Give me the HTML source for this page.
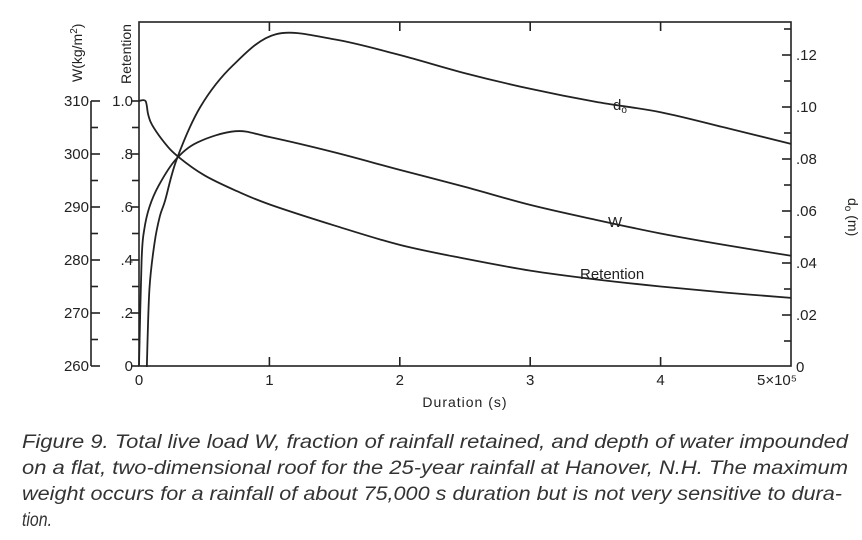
<!DOCTYPE html>
<html><head><meta charset="utf-8"><style>
body{margin:0;background:#fff;}
svg{display:block;font-family:"Liberation Sans",sans-serif;}
</style></head><body>
<svg id="c" width="862" height="540" viewBox="0 0 862 540">
<g id="axes" stroke="#222" stroke-width="1.6" fill="none"></g>
<g id="labels" fill="#222" font-size="14"></g>
<g id="curves" stroke="#222" stroke-width="1.8" fill="none"></g>
<g font-style="italic" font-size="19" fill="#333">
<text x="22" y="448" textLength="826" lengthAdjust="spacingAndGlyphs">Figure 9.  Total live load W, fraction of rainfall retained, and depth of water impounded</text>
<text x="22" y="474" textLength="826" lengthAdjust="spacingAndGlyphs">on a flat, two-dimensional roof for the 25-year rainfall at Hanover, N.H.  The maximum</text>
<text x="22" y="500" textLength="820" lengthAdjust="spacingAndGlyphs">weight occurs for a rainfall of about 75,000 s duration but is not very sensitive to dura-</text>
<text x="22" y="526" textLength="30" lengthAdjust="spacingAndGlyphs">tion.</text>
</g>
</svg>
<script>
const durT=[0,0.05,0.07,0.1,0.2,0.3,0.5,0.75,1,1.5,2,2.5,3,3.5,4,4.5,5];
const retention=[1.0,1.0,0.95,0.91,0.84,0.79,0.72,0.66,0.61,0.53,0.457,0.405,0.36,0.327,0.30,0.277,0.257];
const wT=[0,0.02,0.04,0.08,0.15,0.28,0.45,0.74,1,1.5,2,2.5,3,3.5,4,4.5,5];
const wVals=[260,280,285.7,290,294,298.9,302.2,304.3,303.2,300.3,297,293.8,290.4,287.6,285,282.8,280.8];
const dT=[0.06,0.08,0.12,0.16,0.2,0.29,0.47,0.72,1.05,1.5,2,2.5,3,3.5,4,4.5,5];
const dVals=[0,0.03,0.048,0.058,0.064,0.08,0.1,0.116,0.128,0.126,0.12,0.113,0.107,0.102,0.098,0.092,0.0858];
const xTicks=[0,1,2,3,4,5];
const xTickLabels=["0","1","2","3","4","5×10⁵"];
const wTicks=[260,270,280,290,300,310];
const rTicks=[0,0.2,0.4,0.6,0.8,1.0];
const rTickLabels=["0",".2",".4",".6",".8","1.0"];
const dTicks=[0,0.02,0.04,0.06,0.08,0.10,0.12];
const dTickLabels=["0",".02",".04",".06",".08",".10",".12"];
const L=139,R=791,T=22,B=366;
const xs=t=>L+(R-L)*t/5;
const yr=v=>B-265*v;
const yw=v=>B-(v-260)*5.3;
const yd=v=>367-2600*v;
const NS="http://www.w3.org/2000/svg";
function mk(p,tag,a){const e=document.createElementNS(NS,tag);for(const k in a)e.setAttribute(k,a[k]);document.getElementById(p).appendChild(e);return e;}
const fr=mk('axes','rect',{x:L,y:T,width:R-L,height:B-T});


xTicks.forEach((t,i)=>{
 if(i>0&&i<5){mk('axes','line',{x1:xs(t),x2:xs(t),y1:B,y2:B-9});mk('axes','line',{x1:xs(t),x2:xs(t),y1:T,y2:T+9});}
 const tx=mk('labels','text',{x:xs(t)+(i==5?-14:0),y:B+19,'text-anchor':'middle','font-size':'15'});tx.textContent=xTickLabels[i];
 
 
});
const xt=mk('labels','text',{x:xs(2.5),y:407,'text-anchor':'middle','letter-spacing':'1'});xt.textContent="Duration  (s)";


const WX=91;
mk('axes','line',{x1:WX,x2:WX,y1:yw(260),y2:yw(310)});
for(let v=260;v<=310;v+=5){mk('axes','line',{x1:WX,x2:WX+(v%10==0?9:7),y1:yw(v),y2:yw(v)});}
wTicks.forEach(v=>{const t=mk('labels','text',{x:WX-2,y:yw(v)+5,'text-anchor':'end','font-size':'15'});t.textContent=v;
 
 });
const wt=mk('labels','text',{transform:'translate(82,82) rotate(-90)','font-size':'14'});wt.innerHTML='W(kg/m<tspan dy="-5" font-size="10">2</tspan><tspan dy="5">)</tspan>';


for(let v=0;v<=10;v++){mk('axes','line',{x1:L,x2:L-(v%2==0?0:7),y1:yr(v/10),y2:yr(v/10)});}
rTicks.forEach((v,i)=>{mk('axes','line',{x1:L,x2:L-8,y1:yr(v),y2:yr(v)});const t=mk('labels','text',{x:L-6,y:yr(v)+5,'text-anchor':'end','font-size':'15'});t.textContent=rTickLabels[i];
 
 });
const rt=mk('labels','text',{transform:'translate(131,84) rotate(-90)','font-size':'14'});rt.textContent='Retention';


for(let k=1;k<=13;k++){const v=k*0.01;mk('axes','line',{x1:R,x2:R-(k%2==0?9:7),y1:yd(v),y2:yd(v)});}
dTicks.forEach((v,i)=>{const t=mk('labels','text',{x:R+5,y:yd(v)+5,'font-size':'15'});t.textContent=dTickLabels[i];
 
 });
const dt=mk('labels','text',{transform:'translate(848,198) rotate(90)','font-size':'14'});dt.innerHTML='d<tspan dy="3" font-size="10">o</tspan><tspan dy="-3"> (m)</tspan>';


function path(px){let d=`M${px[0][0]},${px[0][1]}`;for(let i=0;i<px.length-1;i++){const p0=px[Math.max(0,i-1)],p1=px[i],p2=px[i+1],p3=px[Math.min(px.length-1,i+2)];
 d+=` C${p1[0]+(p2[0]-p0[0])/6},${p1[1]+(p2[1]-p0[1])/6} ${p2[0]-(p3[0]-p1[0])/6},${p2[1]-(p3[1]-p1[1])/6} ${p2[0]},${p2[1]}`;}return d;}
const rp=mk('curves','path',{d:path(durT.map((t,i)=>[xs(t),yr(retention[i])]))});


const wp=mk('curves','path',{d:path(wT.map((t,i)=>[xs(t),yw(wVals[i])]))});


const dp=mk('curves','path',{d:path(dT.map((t,i)=>[xs(t),yd(dVals[i])]))});


const l1=mk('labels','text',{x:608,y:227,'font-size':'15'});l1.textContent='W';


const l2=mk('labels','text',{x:580,y:279,'font-size':'15'});l2.textContent='Retention';


const l3=mk('labels','text',{x:613,y:110,'font-size':'15'});l3.innerHTML='d<tspan dy="3" font-size="10">o</tspan>';


</script>
</body></html>
